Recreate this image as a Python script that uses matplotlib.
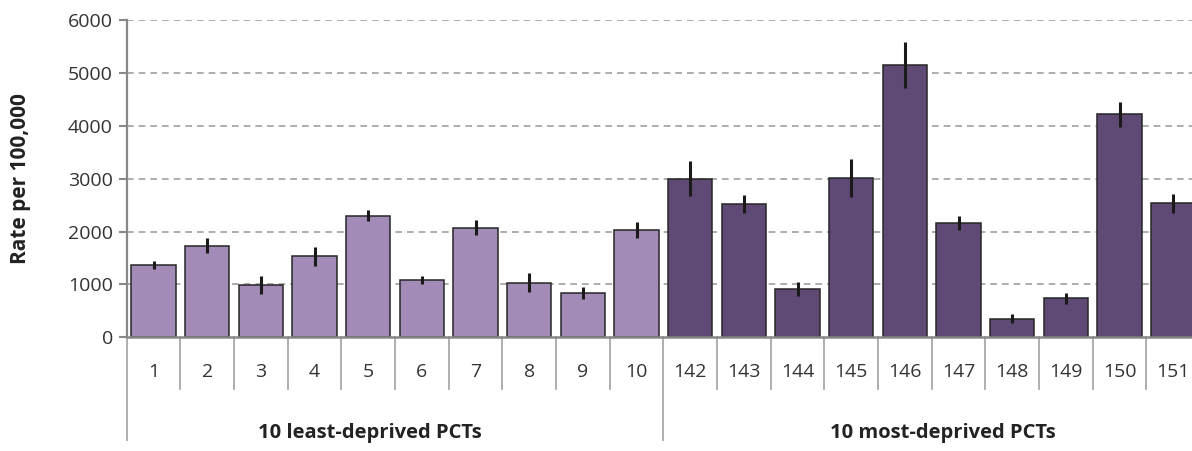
import matplotlib
matplotlib.use("Agg")
import matplotlib.pyplot as plt
import matplotlib.transforms as mtransforms
import numpy as np

plt.rcParams['font.family'] = ['Open Sans', 'DejaVu Sans']

# PCT codes and rates per 100,000 with error half-widths
least_labels = ["1", "2", "3", "4", "5", "6", "7", "8", "9", "10"]
least_rates = [1370, 1730, 990, 1530, 2300, 1080, 2070, 1030, 830, 2030]
least_err = [80, 140, 165, 180, 105, 75, 140, 180, 115, 150]

most_labels = ["142", "143", "144", "145", "146", "147", "148", "149", "150", "151"]
most_rates = [3000, 2520, 915, 3010, 5145, 2160, 350, 735, 4215, 2535]
most_err = [330, 170, 130, 355, 430, 140, 85, 105, 235, 180]

group_names = ["10 least-deprived PCTs", "10 most-deprived PCTs"]
y_ticks = [0, 1000, 2000, 3000, 4000, 5000, 6000]

light = "#a28bb6"
dark = "#5e4a74"
axis_grey = "#888888"
text_col = "#333333"

W, H = 1192, 451
fig = plt.figure(figsize=(W / 100, H / 100), dpi=100)
left_px, right_px = 126.7, 1200.0
zero_px, top_px = 337.3, 20.0
ax = fig.add_axes([left_px / W, (H - zero_px) / H,
                   (right_px - left_px) / W, (zero_px - top_px) / H])

labels = least_labels + most_labels
rates = least_rates + most_rates
errs = least_err + most_err
colors = [light] * len(least_rates) + [dark] * len(most_rates)
x = np.arange(len(labels))

ax.bar(x, rates, width=0.83, color=colors, edgecolor="#262626",
       linewidth=1.1, zorder=3)
ax.errorbar(x, rates, yerr=errs, fmt="none", ecolor="#1a1a1a",
            elinewidth=2.2, capsize=0, zorder=4)

ax.set_xlim(-0.5, len(labels) - 0.5)
ax.set_ylim(0, 6000)
ax.set_yticks(y_ticks)
ax.set_yticklabels([str(v) for v in y_ticks], fontsize=14, color=text_col)
ax.tick_params(axis="y", length=6, width=1.5, color=axis_grey, pad=4)
ax.set_xticks([])

for v in y_ticks[1:]:
    ax.axhline(v, color="#a0a0a0", linewidth=1.2, linestyle=(0, (4, 3)),
               zorder=1)

for side in ["top", "right"]:
    ax.spines[side].set_visible(False)
ax.spines["left"].set_color(axis_grey)
ax.spines["left"].set_linewidth(1.6)
ax.spines["bottom"].set_color(axis_grey)
ax.spines["bottom"].set_linewidth(1.8)
ax.spines["bottom"].set_zorder(5)

ax_w = right_px - left_px
ax_h = zero_px - top_px
ax.set_ylabel("Rate per 100,000", fontsize=15, fontweight="bold",
              color="#222222")
ax.yaxis.set_label_coords((31.0 - left_px) / ax_w, 0.5)

# category axis below the plot: separators, labels and group labels
trans = mtransforms.blended_transform_factory(ax.transData, ax.transAxes)
short = -52.0 / ax_h
long_ = -103.0 / ax_h
for b in np.arange(len(labels) + 1) - 0.5:
    idx = int(b + 0.5)
    depth = long_ if idx in (0, len(least_labels)) else short
    ax.plot([b, b], [0, depth], transform=trans, color="#a8a8a8",
            linewidth=1.3, clip_on=False, zorder=2)

for xi, lab in zip(x, labels):
    ax.text(xi, -34.5 / ax_h, lab, transform=trans, ha="center", va="center",
            fontsize=14, color=text_col)

group_x_px = [370.0, 943.0]
for gx, name in zip(group_x_px, group_names):
    ax.text((gx - left_px) / ax_w, -96.0 / ax_h, name,
            transform=ax.transAxes, ha="center", va="center",
            fontsize=14.5, fontweight="bold", color="#222222")

fig.savefig("out.png", dpi=100)
